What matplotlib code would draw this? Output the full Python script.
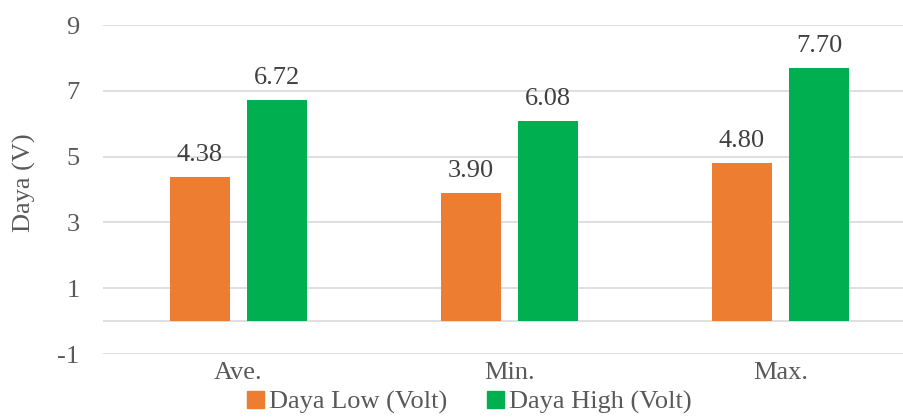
import numpy as np
import matplotlib.pyplot as plt
from matplotlib.patches import Patch
from matplotlib.ticker import FuncFormatter

# data daya
kategori = ['Ave.', 'Min.', 'Max.']
daya_low = [4.38, 3.90, 4.80]
daya_high = [6.72, 6.08, 7.70]
y_ticks = [-1, 1, 3, 5, 7, 9]

warna_low = '#ED7D31'
warna_high = '#00B050'
abu = '#595959'

plt.rcParams['font.family'] = ['Liberation Serif', 'DejaVu Serif']
fs = 19

fig = plt.figure(figsize=(9.04, 4.18), dpi=100)
ax = fig.add_axes([0.114, 0.153, 0.886, 0.787])

x = np.arange(len(kategori))
lebar = 0.221
geser = 0.142

bar_low = ax.bar(x - geser, daya_low, lebar, color=warna_low, zorder=3)
bar_high = ax.bar(x + geser, daya_high, lebar, color=warna_high, zorder=3)

# label nilai di atas batang
for bars, nilai in [(bar_low, daya_low), (bar_high, daya_high)]:
    for b, v in zip(bars, nilai):
        ax.annotate(f'{v:.2f}', (b.get_x() + b.get_width() / 2, v),
                    xytext=(0, 8), textcoords='offset points',
                    ha='center', va='bottom', fontsize=fs, color='#404040')

ax.set_ylim(-1, 9)
ax.set_xlim(-0.5, 2.456)
ax.set_yticks(y_ticks)
ax.yaxis.set_major_formatter(FuncFormatter(lambda v, p: f'{v:g}'))
ax.grid(axis='y', color='#D9D9D9', linewidth=1.2, zorder=0)
ax.axhline(0, color='#D9D9D9', linewidth=1.2, zorder=1)
ax.set_xticks([])
for i, k in enumerate(kategori):
    ax.text(i, -1.25, k, ha='center', va='top', fontsize=fs, color=abu)

for s in ax.spines.values():
    s.set_visible(False)
ax.tick_params(axis='y', length=0, labelsize=fs, labelcolor=abu, pad=17)
ax.set_ylabel('Daya (V)', fontsize=fs, color=abu)
ax.yaxis.set_label_coords(-0.084, 0.52)

legenda = [Patch(color=warna_low, label='Daya Low (Volt)'),
           Patch(color=warna_high, label='Daya High (Volt)')]
fig.legend(handles=legenda, loc='lower center', bbox_to_anchor=(0.519, -0.048),
           ncol=2, frameon=False, fontsize=fs, labelcolor=abu,
           handlelength=0.65, handleheight=0.65, handletextpad=0.2,
           columnspacing=1.5)

fig.savefig('out.png', dpi=100)
